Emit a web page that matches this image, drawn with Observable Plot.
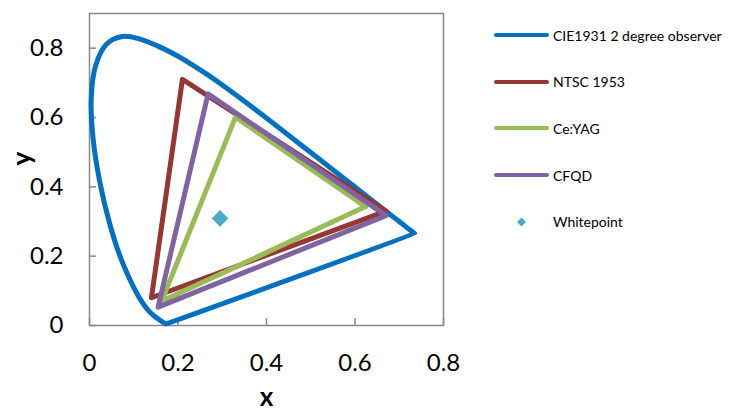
<!DOCTYPE html>
<html>
<head>
<meta charset="utf-8">
<script src="https://cdn.jsdelivr.net/npm/d3@7"></script>
<script src="https://cdn.jsdelivr.net/npm/@observablehq/plot@0.6"></script>
<style>
  body { margin: 0; background: #fff; }
  #chart { position: relative; width: 729px; height: 416px; font-family: Lato, "Open Sans", sans-serif; }
  #chart > svg { position: absolute; left: 0; top: 0; }
  .legend { position: absolute; left: 0; top: 0; }
  .legend .row { position: absolute; left: 494px; height: 20px; display: flex; align-items: center; }
  .legend .row span { position: absolute; left: 59px; white-space: nowrap; font-size: 14px; color: #000; }
</style>
</head>
<body>
<div id="chart"></div>
<script>
// CIE 1931 2° observer spectral locus, 380–700 nm in 5 nm steps
const locusX = [0.1741, 0.1740, 0.1738, 0.1736, 0.1733, 0.1730, 0.1726, 0.1721, 0.1714, 0.1703,
  0.1689, 0.1669, 0.1644, 0.1611, 0.1566, 0.1510, 0.1440, 0.1355, 0.1241, 0.1096,
  0.0913, 0.0687, 0.0454, 0.0235, 0.0082, 0.0039, 0.0139, 0.0389, 0.0743, 0.1142,
  0.1547, 0.1929, 0.2296, 0.2658, 0.3016, 0.3373, 0.3731, 0.4087, 0.4441, 0.4788,
  0.5125, 0.5448, 0.5752, 0.6029, 0.6270, 0.6482, 0.6658, 0.6801, 0.6915, 0.7006,
  0.7079, 0.7140, 0.7190, 0.7230, 0.7260, 0.7283, 0.7300, 0.7311, 0.7320, 0.7327,
  0.7334, 0.7340, 0.7344, 0.7346, 0.7347];
const locusY = [0.0050, 0.0050, 0.0049, 0.0049, 0.0048, 0.0048, 0.0048, 0.0048, 0.0051, 0.0058,
  0.0069, 0.0086, 0.0109, 0.0138, 0.0177, 0.0227, 0.0297, 0.0399, 0.0578, 0.0868,
  0.1327, 0.2007, 0.2950, 0.4127, 0.5384, 0.6548, 0.7502, 0.8120, 0.8338, 0.8262,
  0.8059, 0.7816, 0.7543, 0.7243, 0.6923, 0.6589, 0.6245, 0.5896, 0.5547, 0.5202,
  0.4866, 0.4544, 0.4242, 0.3965, 0.3725, 0.3514, 0.3340, 0.3197, 0.3083, 0.2993,
  0.2920, 0.2859, 0.2809, 0.2770, 0.2740, 0.2717, 0.2700, 0.2689, 0.2680, 0.2673,
  0.2666, 0.2660, 0.2656, 0.2654, 0.2653];

// Gamut triangles: red, green, blue primaries
const ntscX = [0.670, 0.210, 0.140];
const ntscY = [0.330, 0.710, 0.080];
const yagX = [0.624, 0.330, 0.163];
const yagY = [0.343, 0.601, 0.070];
const cfqdX = [0.670, 0.268, 0.155];
const cfqdY = [0.317, 0.668, 0.053];

// White point
const whiteX = [0.295];
const whiteY = [0.309];

const seriesNames = ["CIE1931 2 degree observer", "NTSC 1953", "Ce:YAG", "CFQD", "Whitepoint"];
const seriesColors = ["#0070C0", "#953735", "#9BBB59", "#8064A2", "#4BACC6"];

const xTicks = [0, 0.2, 0.4, 0.6, 0.8];
const yTicks = [0, 0.2, 0.4, 0.6, 0.8];

// closed polygon rows for Plot.line
function closedRows(xs, ys) {
  const rows = xs.map((x, i) => ({x, y: ys[i]}));
  rows.push({...rows[0]});
  return rows;
}

const locusRows = closedRows(locusX, locusY);
const ntscRows = closedRows(ntscX, ntscY);
const yagRows = closedRows(yagX, yagY);
const cfqdRows = closedRows(cfqdX, cfqdY);
const whiteRows = whiteX.map((x, i) => ({x, y: whiteY[i]}));

const lineStyle = {x: "x", y: "y", strokeWidth: 5, strokeLinejoin: "round", strokeLinecap: "round"};
const frameColor = "#888888";

const plot = Plot.plot({
  width: 729,
  height: 416,
  marginLeft: 89,
  marginRight: 286,
  marginTop: 13,
  marginBottom: 91,
  x: {domain: [0, 0.8]},
  y: {domain: [0, 0.9]},
  style: {fontFamily: "Lato, 'Open Sans', sans-serif", background: "transparent", color: "#000"},
  marks: [
    Plot.frame({stroke: frameColor, strokeWidth: 1.5}),
    // inward tick marks
    Plot.axisX({ticks: xTicks, tickSize: 7, dy: -7, fill: "none", stroke: frameColor, strokeWidth: 1.5, label: null}),
    Plot.axisY({ticks: yTicks, tickSize: 7, dx: 7, fill: "none", stroke: frameColor, strokeWidth: 1.5, label: null}),
    // tick labels
    Plot.axisX({ticks: xTicks, tickSize: 0, tickPadding: 28, tickFormat: String, fontSize: 24, fill: "#000", label: null}),
    Plot.axisY({ticks: yTicks, tickSize: 0, tickPadding: 26, tickFormat: String, fontSize: 24, fill: "#000", label: null}),
    // axis titles
    Plot.text(["x"], {frameAnchor: "bottom", dy: 80, fontSize: 26, fontWeight: "bold", fill: "#000"}),
    Plot.text(["y"], {frameAnchor: "left", rotate: -90, dx: -67, dy: -4, fontSize: 26, fontWeight: "bold", fill: "#000"}),
    // series
    Plot.line(locusRows, {...lineStyle, stroke: seriesColors[0], curve: "catmull-rom"}),
    Plot.line(ntscRows, {...lineStyle, stroke: seriesColors[1]}),
    Plot.line(yagRows, {...lineStyle, stroke: seriesColors[2]}),
    Plot.line(cfqdRows, {...lineStyle, stroke: seriesColors[3]}),
    Plot.dot(whiteRows, {x: "x", y: "y", symbol: "diamond2", r: 7.5, fill: seriesColors[4], stroke: "none"})
  ]
});

const chart = document.getElementById("chart");
chart.appendChild(plot);

// legend to the right of the plot
const legend = document.createElement("div");
legend.className = "legend";
const rowCenters = [35, 81.7, 128.3, 175, 221.7];
seriesNames.forEach((name, i) => {
  const row = document.createElement("div");
  row.className = "row";
  row.style.top = (rowCenters[i] - 10) + "px";
  const isPoint = i === seriesNames.length - 1;
  const swatch = isPoint
    ? `<svg width="56" height="20"><path d="M27.5,5.5 L32,10 L27.5,14.5 L23,10 Z" fill="${seriesColors[i]}"/></svg>`
    : `<svg width="56" height="20"><line x1="2" y1="10" x2="53" y2="10" stroke="${seriesColors[i]}" stroke-width="4" stroke-linecap="round"/></svg>`;
  row.innerHTML = swatch + `<span>${name}</span>`;
  legend.appendChild(row);
});
chart.appendChild(legend);
</script>
</body>
</html>
